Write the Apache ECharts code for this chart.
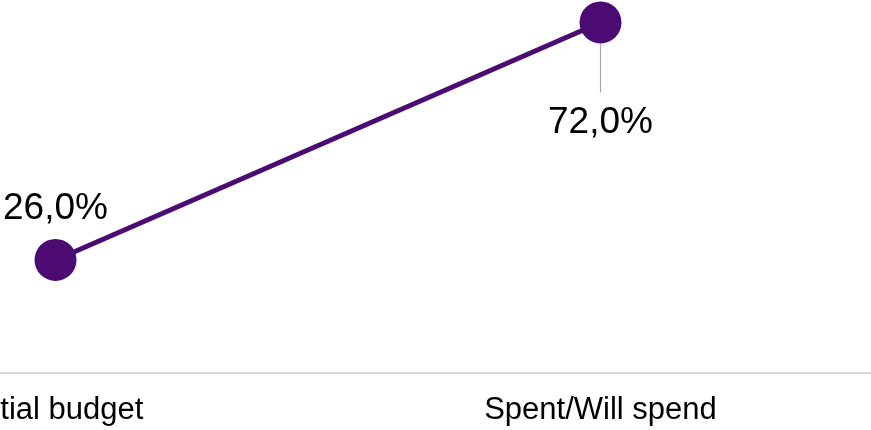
<!DOCTYPE html>
<html>
<head>
<meta charset="utf-8">
<script src="https://cdn.jsdelivr.net/npm/echarts@6/dist/echarts.min.js"></script>
<style>
  html, body { margin: 0; padding: 0; background: #ffffff; }
  #chart { width: 871px; height: 430px; }
</style>
</head>
<body>
<div id="chart"></div>
<script>
// Budget share: planned vs. spent
const categories = ['Initial budget', 'Spent/Will spend'];
const shareValues = [26.0, 72.0];

const purple = '#4b0b72';
const fontFamily = '"Liberation Sans", Arial, sans-serif';

const chart = echarts.init(document.getElementById('chart'), null, { renderer: 'canvas' });

chart.setOption({
  animation: false,
  backgroundColor: '#ffffff',
  grid: { left: -217, right: -2, top: 0, bottom: 57, outerBoundsMode: 'none', containLabel: false },
  xAxis: {
    type: 'category',
    data: categories,
    boundaryGap: true,
    axisLine: { show: true, lineStyle: { color: '#d9d9d9', width: 2 } },
    axisTick: { show: false },
    axisLabel: { color: '#000000', fontSize: 31, fontFamily: fontFamily, margin: 22 }
  },
  yAxis: {
    type: 'value',
    min: 4.1,
    max: 76.35,
    show: false,
    splitLine: { show: false }
  },
  series: [{
    type: 'line',
    data: shareValues.map((v, i) => ({
      value: v,
      label: i === 1 ? { padding: [12, 0, 0, 0], backgroundColor: 'rgba(255,255,255,0)' } : {},
      labelLine: { show: i === 1 }
    })),
    symbol: 'circle',
    symbolSize: 42,
    lineStyle: { color: purple, width: 5 },
    itemStyle: { color: purple },
    label: {
      show: true,
      position: 'top',
      distance: 12,
      color: '#000000',
      fontSize: 37,
      fontFamily: fontFamily,
      formatter: p => p.value.toFixed(1).replace('.', ',') + '%'
    },
    labelLine: { show: true, lineStyle: { color: '#a8a8a8', width: 1.2 } },
    labelLayout: p => (p.dataIndex === 1 ? { dy: 152 } : {})
  }]
});
</script>
</body>
</html>
